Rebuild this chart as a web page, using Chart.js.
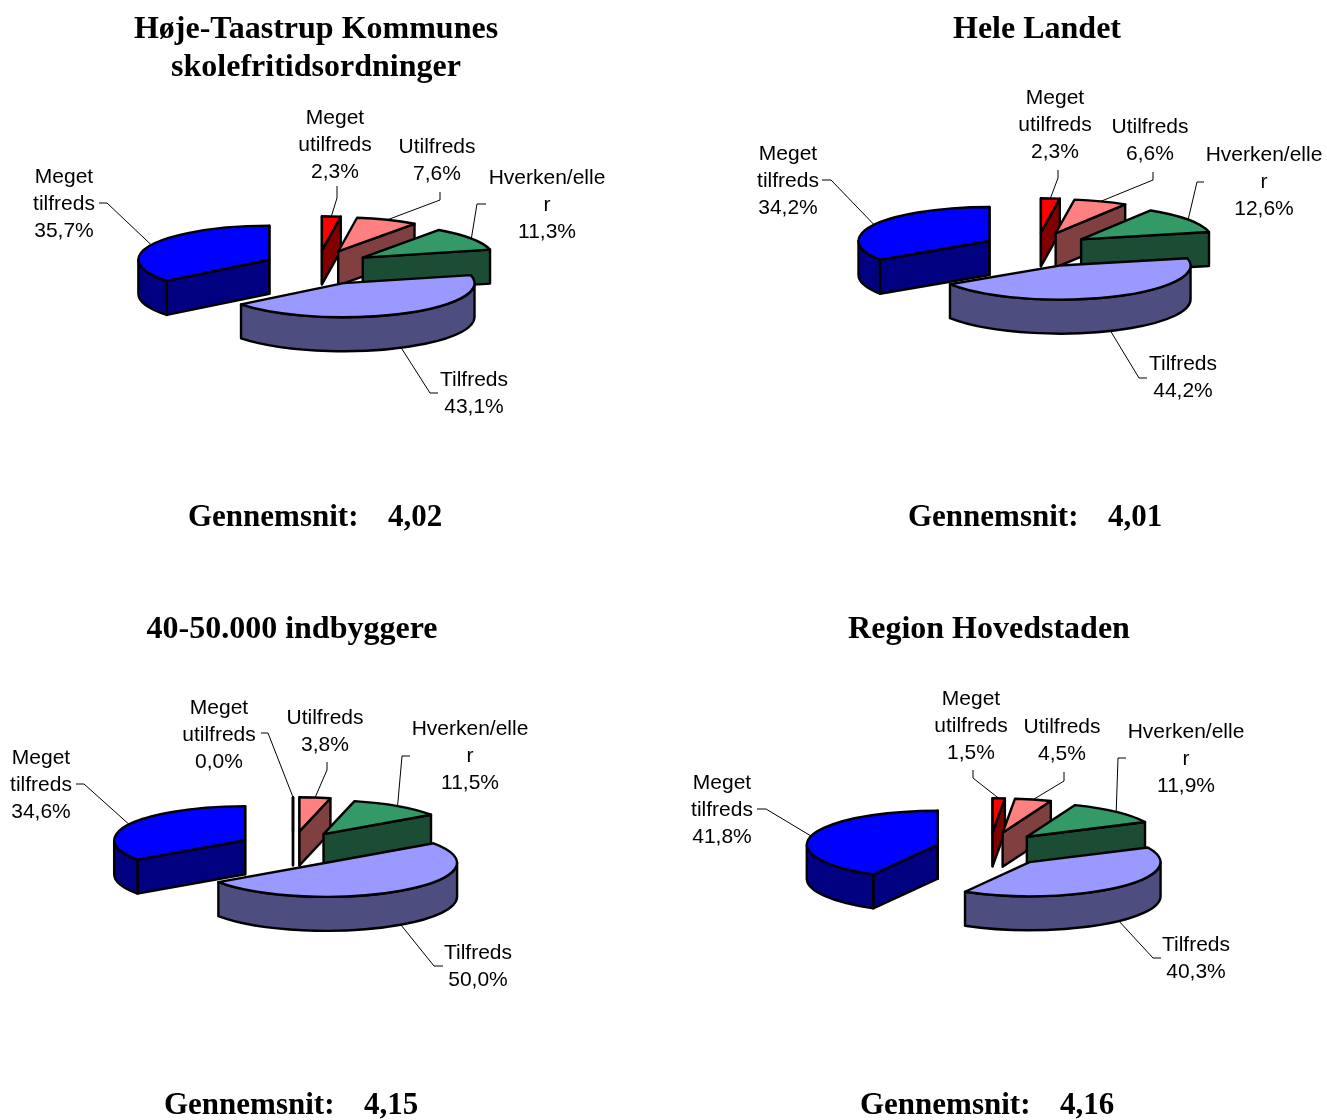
<!DOCTYPE html>
<html>
<head>
<meta charset="utf-8">
<title>Tilfredshed</title>
<script src="https://cdn.jsdelivr.net/npm/chart.js@4"></script>
<style>
  html, body { margin: 0; padding: 0; background: #fff; overflow: hidden; }
  canvas { position: absolute; }
</style>
</head>
<body>
<script>
// Data
var categories = [["Meget", "utilfreds"], ["Utilfreds"], ["Hverken/elle", "r"], ["Tilfreds"], ["Meget", "tilfreds"]];
var valuesHoje = [2.3, 7.6, 11.3, 43.1, 35.7];
var valuesLandet = [2.3, 6.6, 12.6, 44.2, 34.2];
var valuesIndbyggere = [0.0, 3.8, 11.5, 50.0, 34.6];
var valuesRegion = [1.5, 4.5, 11.9, 40.3, 41.8];
var titles = [
  ["Høje-Taastrup Kommunes", "skolefritidsordninger"],
  ["Hele Landet"],
  ["40-50.000 indbyggere"],
  ["Region Hovedstaden"]
];
var averages = ["4,02", "4,01", "4,15", "4,16"];

// Colours
var topColors = ["#FF0000", "#FF8080", "#339966", "#9999FF", "#0000FF"];
var wallColors = ["#800000", "#804040", "#1A4D33", "#4D4D80", "#000080"];

// Layout, page coordinates
var SQUASH = 0.26, EXPLODE_SQUASH = 0.31, WALL = 34, RADIUS = 131;
var explodeBy = [54, 54, 54, 58, 54];
var CW = 664, CH = 560;
var centres = [[318, 267], [1037, 249], [293, 848], [990, 849]];
var titlePos = [[316, 30], [1037, 30], [292, 630], [989, 630]];
var avgPos = [[188, 388, 518], [908, 1108, 518], [164, 364, 1106], [860, 1060, 1106]];
// label centre x, first line y
var labelPos = [
  [[335, 118], [437, 147], [547, 178], [474, 380], [64, 177]],
  [[1055, 98], [1150, 127], [1264, 155], [1183, 364], [788, 154]],
  [[219, 708], [325, 718], [470, 729], [478, 953], [41, 758]],
  [[971, 699], [1062, 727], [1186, 732], [1196, 945], [722, 783]]
];
// leader line points from the label side, the last point comes from the slice
var leaders = [
  [[[337, 186], [337, 198]], [[440, 192], [440, 200]], [[486, 204], [477, 204]], [[438, 393], [430, 393]], [[99, 203], [107, 203]]],
  [[[1058, 170], [1058, 178]], [[1153, 172], [1153, 180]], [[1204, 182], [1197, 182]], [[1147, 378], [1139, 378]], [[822, 180], [831, 180]]],
  [[[261, 733], [268, 733]], [[327, 762], [327, 770]], [[410, 756], [402, 756]], [[443, 966], [434, 966]], [[76, 784], [84, 784]]],
  [[[973, 770], [973, 778]], [[1064, 772], [1064, 781]], [[1126, 758], [1118, 758]], [[1161, 958], [1153, 958]], [[757, 809], [766, 809]]]
];

// where the slice's point ends up once it is pulled out of the pie
function tipOf(arc, i) {
  var mid = (arc.startAngle + arc.endAngle) / 2;
  return {
    x: arc.x + Math.cos(mid) * explodeBy[i],
    y: arc.y + Math.sin(mid) * explodeBy[i] * EXPLODE_SQUASH
  };
}

function radialWall(ctx, tip, angle, color) {
  var rx = tip.x + Math.cos(angle) * RADIUS;
  var ry = tip.y + Math.sin(angle) * RADIUS * SQUASH;
  ctx.beginPath();
  ctx.moveTo(tip.x, tip.y);
  ctx.lineTo(rx, ry);
  ctx.lineTo(rx, ry + WALL);
  ctx.lineTo(tip.x, tip.y + WALL);
  ctx.closePath();
  ctx.fillStyle = color;
  ctx.fill();
  ctx.stroke();
}

function drawSlice(ctx, arc, i) {
  var tip = tipOf(arc, i);
  var a0 = arc.startAngle, a1 = arc.endAngle;
  ctx.save();
  ctx.lineWidth = 2.4;
  ctx.lineJoin = "round";
  ctx.strokeStyle = "#000";

  // sides first
  if (Math.sin(a0 - Math.PI / 2) > -1e-9) radialWall(ctx, tip, a0, wallColors[i]);
  if (Math.sin(a1 + Math.PI / 2) > -1e-9) radialWall(ctx, tip, a1, wallColors[i]);
  var lo = Math.max(a0, 0), hi = Math.min(a1, Math.PI);
  if (hi > lo) {
    ctx.beginPath();
    ctx.ellipse(tip.x, tip.y, RADIUS, RADIUS * SQUASH, 0, lo, hi);
    ctx.ellipse(tip.x, tip.y + WALL, RADIUS, RADIUS * SQUASH, 0, hi, lo, true);
    ctx.closePath();
    ctx.fillStyle = wallColors[i];
    ctx.fill();
    ctx.stroke();
  }

  // top through the library's own arc, flattened
  ctx.save();
  ctx.translate(tip.x, tip.y);
  ctx.scale(1, SQUASH);
  ctx.translate(-arc.x, -arc.y);
  arc.draw(ctx);
  ctx.restore();

  ctx.beginPath();
  ctx.moveTo(tip.x, tip.y);
  ctx.ellipse(tip.x, tip.y, RADIUS, RADIUS * SQUASH, 0, a0, a1);
  ctx.closePath();
  ctx.stroke();
  ctx.restore();
}

var pie3d = {
  id: "pie3d",
  beforeDatasetDraw: function(chart) {
    var arcs = chart.getDatasetMeta(0).data;
    var order = arcs.map(function(a, i) { return i; });
    order.sort(function(a, b) { return tipOf(arcs[a], a).y - tipOf(arcs[b], b).y; });
    order.forEach(function(i) { drawSlice(chart.ctx, arcs[i], i); });
    return false;
  },
  afterDraw: function(chart, args, opts) {
    var ctx = chart.ctx, n = opts.index;
    var ox = opts.ox, oy = opts.oy;
    var arcs = chart.getDatasetMeta(0).data;
    var values = chart.data.datasets[0].data;
    ctx.save();

    // leader lines
    ctx.strokeStyle = "#000";
    ctx.lineWidth = 1;
    arcs.forEach(function(arc, i) {
      var tip = tipOf(arc, i);
      var mid = (arc.startAngle + arc.endAngle) / 2;
      var ex = tip.x + Math.cos(mid) * RADIUS;
      var ey = tip.y + Math.sin(mid) * RADIUS * SQUASH;
      if (Math.sin(mid) > 0) ey += WALL;
      var pts = leaders[n][i];
      ctx.beginPath();
      ctx.moveTo(pts[0][0] - ox, pts[0][1] - oy);
      ctx.lineTo(pts[1][0] - ox, pts[1][1] - oy);
      ctx.lineTo(ex, ey);
      ctx.stroke();
    });

    // slice labels
    ctx.fillStyle = "#000";
    ctx.textAlign = "center";
    ctx.textBaseline = "middle";
    ctx.font = "21px 'Liberation Sans'";
    categories.forEach(function(lines, i) {
      var all = lines.concat([values[i].toFixed(1).replace(".", ",") + "%"]);
      all.forEach(function(t, k) {
        ctx.fillText(t, labelPos[n][i][0] - ox, labelPos[n][i][1] - oy + k * 27.2);
      });
    });

    // title and average
    ctx.font = "bold 32px 'Liberation Serif'";
    titles[n].forEach(function(t, k) {
      ctx.fillText(t, titlePos[n][0] - ox, titlePos[n][1] - oy + k * 38);
    });
    ctx.font = "bold 31px 'Liberation Serif'";
    ctx.textAlign = "left";
    ctx.fillText("Gennemsnit:", avgPos[n][0] - ox, avgPos[n][2] - oy);
    ctx.fillText(averages[n], avgPos[n][1] - ox, avgPos[n][2] - oy);
    ctx.restore();
  }
};

function makeChart(values, index) {
  var ox = (index % 2) * (CW - 1);
  var oy = Math.floor(index / 2) * CH;
  var canvas = document.createElement("canvas");
  canvas.width = CW;
  canvas.height = CH;
  canvas.style.left = ox + "px";
  canvas.style.top = oy + "px";
  canvas.style.width = CW + "px";
  canvas.style.height = CH + "px";
  document.body.appendChild(canvas);

  // chart area is centred on the pie
  var cx = centres[index][0] - ox, cy = centres[index][1] - oy;
  var padding = {
    left: Math.max(2 * cx - CW, 0),
    right: Math.max(CW - 2 * cx, 0),
    top: Math.max(2 * cy - CH, 0),
    bottom: Math.max(CH - 2 * cy, 0)
  };

  return new Chart(canvas.getContext("2d"), {
    type: "pie",
    data: {
      labels: categories.map(function(c) { return c.join(" "); }),
      datasets: [{
        data: values,
        backgroundColor: topColors,
        borderWidth: 0
      }]
    },
    options: {
      responsive: false,
      animation: false,
      events: [],
      radius: RADIUS,
      rotation: 0,
      layout: { padding: padding },
      plugins: {
        legend: { display: false },
        tooltip: { enabled: false },
        pie3d: { index: index, ox: ox, oy: oy }
      }
    },
    plugins: [pie3d]
  });
}

[valuesHoje, valuesLandet, valuesIndbyggere, valuesRegion].forEach(makeChart);
</script>
</body>
</html>
